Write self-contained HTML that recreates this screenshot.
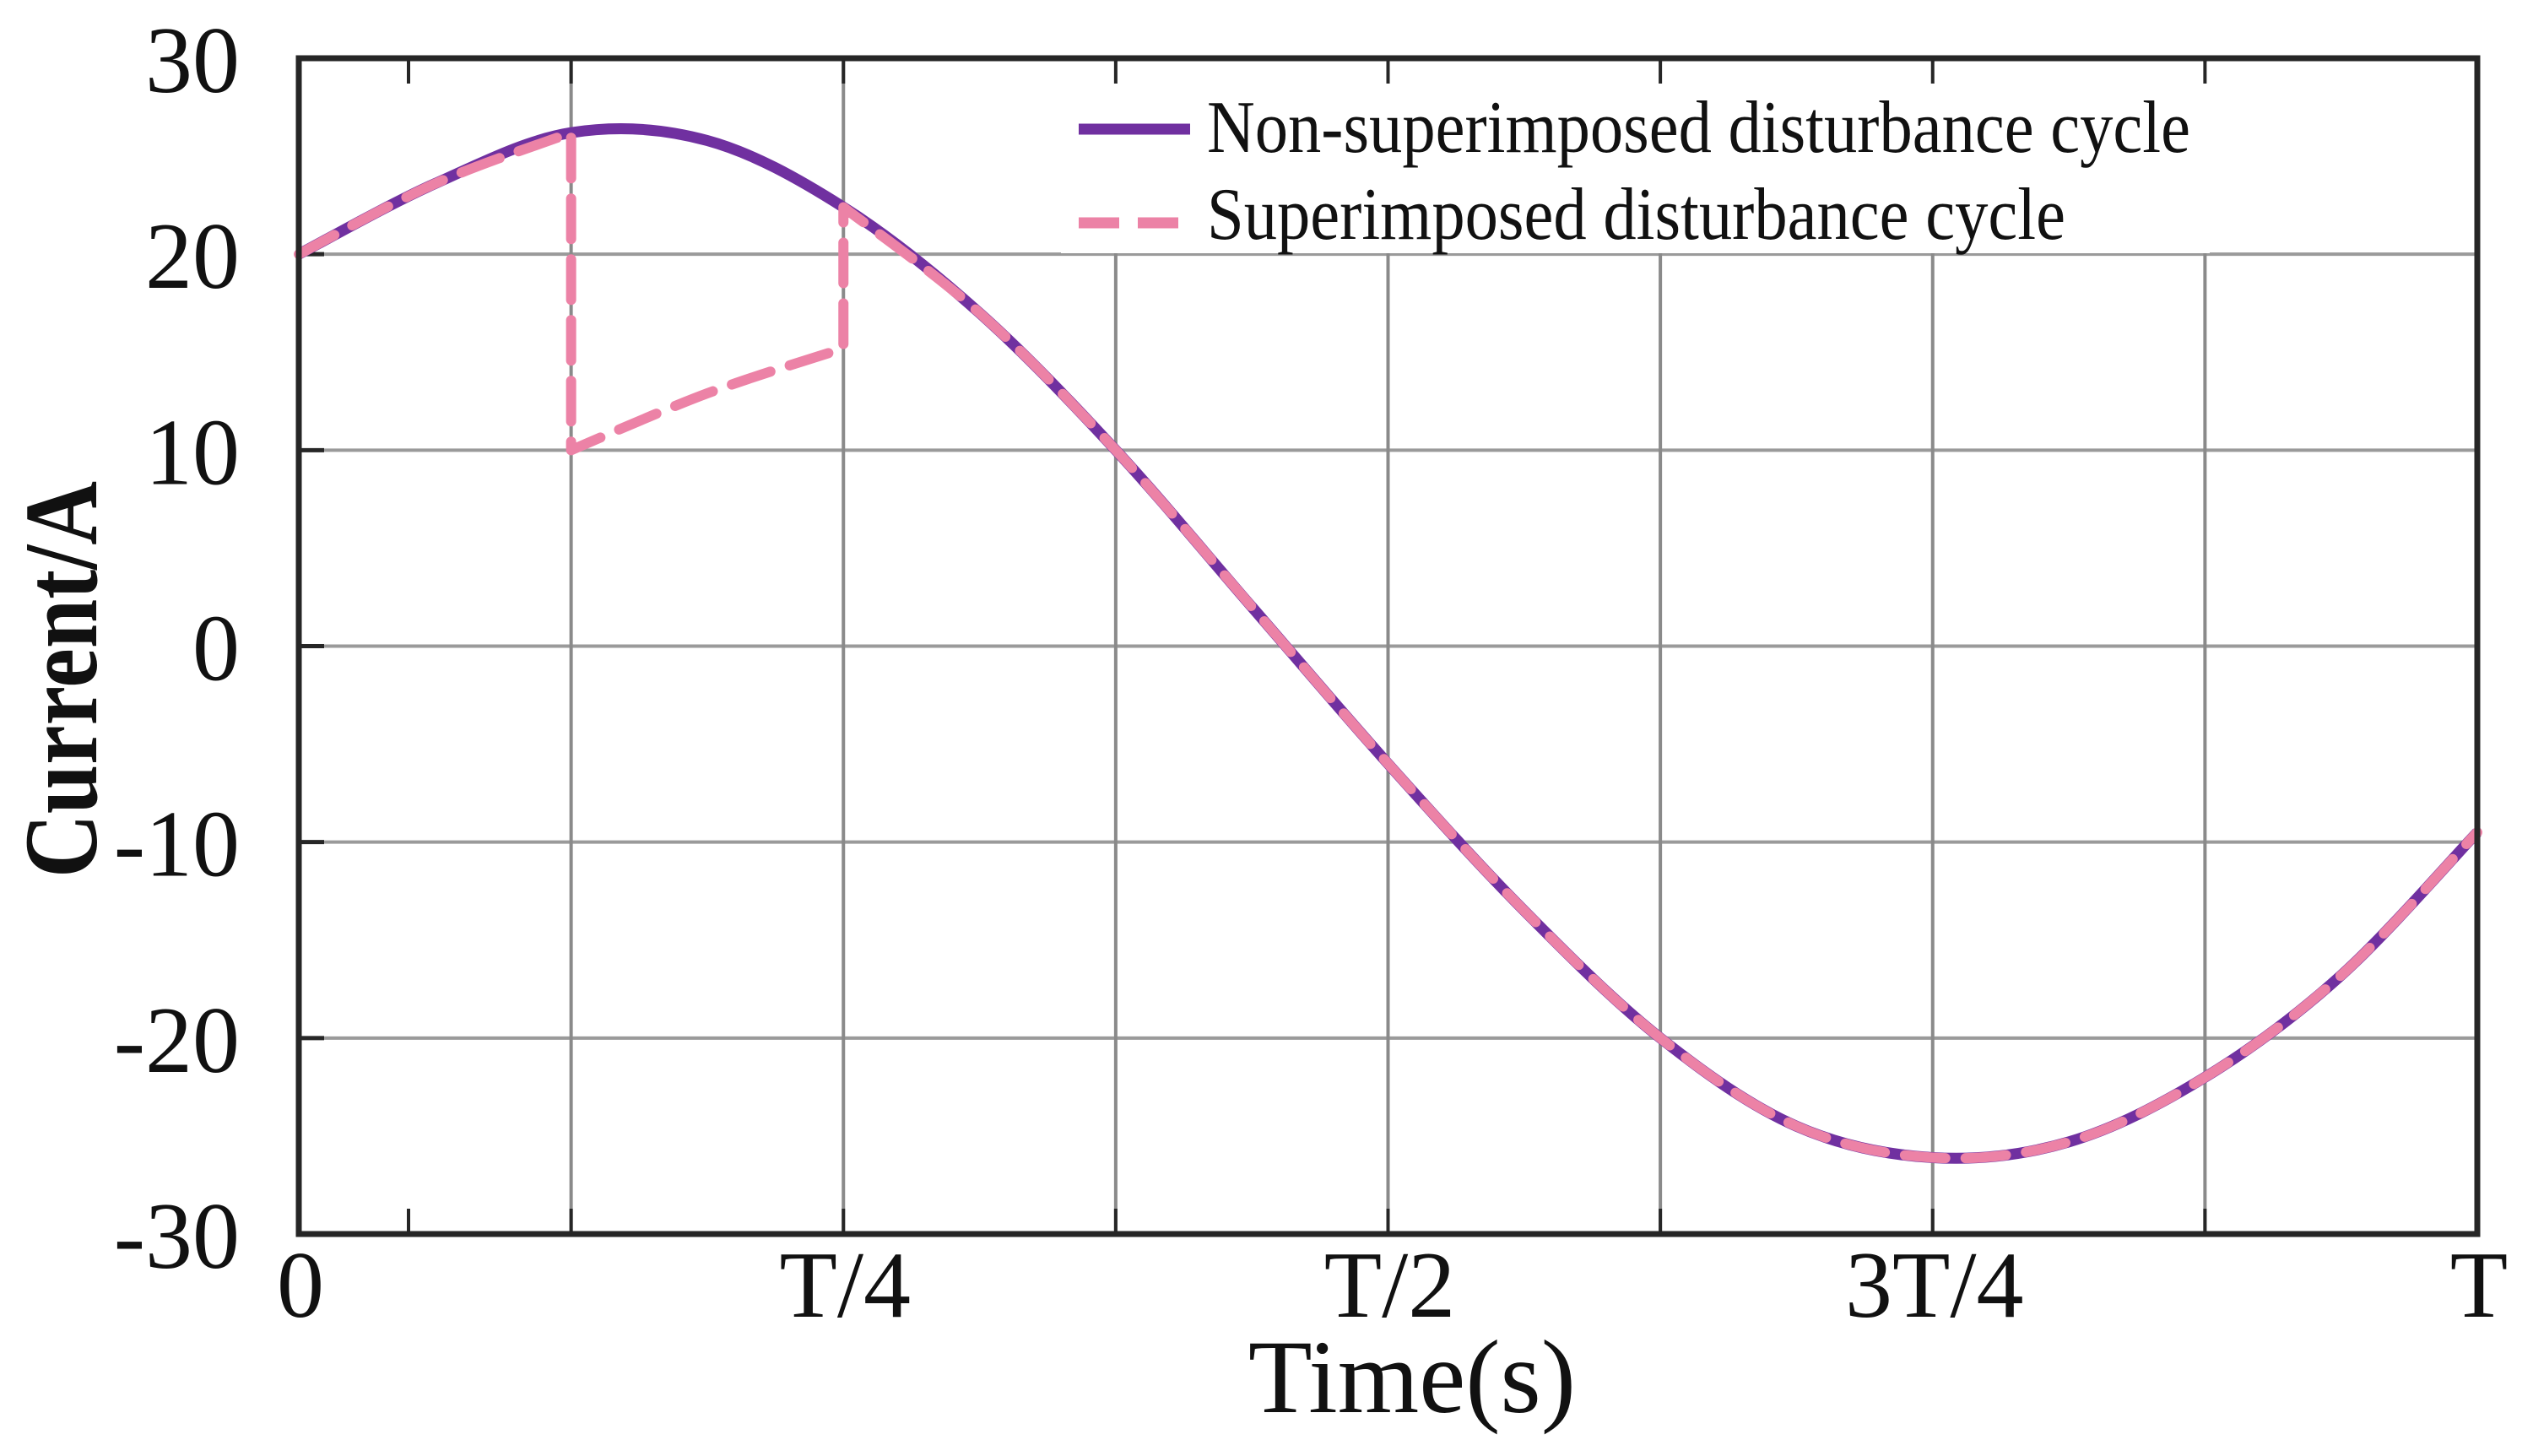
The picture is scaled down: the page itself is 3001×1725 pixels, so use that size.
<!DOCTYPE html>
<html><head><meta charset="utf-8"><style>
html,body{margin:0;padding:0;background:#fff;}
svg{display:block;font-family:"Liberation Serif","DejaVu Serif",serif;}
</style></head><body>
<svg id="chart" width="3001" height="1725" viewBox="0 0 3001 1725" xmlns="http://www.w3.org/2000/svg">
<rect x="0" y="0" width="3001" height="1725" fill="#fff"/>
<g id="grid"></g>
<rect x="1257" y="74" width="1361" height="226" fill="#fff"/>
<g id="ticks"></g>
<g id="series"></g>
<rect x="354" y="69" width="2581" height="1393" fill="none" stroke="#262626" stroke-width="7"/>
<g id="labels" font-size="112" fill="#111"></g>
<text x="1673" y="1673" font-size="124" text-anchor="middle" fill="#111">Time(s)</text>
<text transform="translate(114,805) rotate(-90)" font-size="124" text-anchor="middle" fill="#111" font-weight="bold" textLength="470" lengthAdjust="spacingAndGlyphs">Current/A</text>
<g>
  <line x1="1278" y1="153" x2="1410" y2="153" stroke="#7030a0" stroke-width="13"/>
  <text x="1430" y="180" font-size="88" textLength="1165" lengthAdjust="spacingAndGlyphs" fill="#111">Non-superimposed disturbance cycle</text>
  <line x1="1278" y1="264" x2="1410" y2="264" stroke="#ec82a6" stroke-width="13" stroke-dasharray="48,22"/>
  <text x="1430" y="283" font-size="88" textLength="1017" lengthAdjust="spacingAndGlyphs" fill="#111">Superimposed disturbance cycle</text>
</g>
</svg>
<script>
const tFrac = [0,1/16,2/16,3/16,4/16,5/16,6/16,7/16,8/16,9/16,10/16,11/16,12/16,13/16,14/16,15/16,1];
const baseCurrent = [20,23.6,26.2,25.8,22.4,17.0,10.0,2.0,-6.0,-13.5,-20.0,-24.5,-26.1,-25.3,-22.0,-16.8,-9.5];
const dropT = [2/16,3/16,4/16];
const dropCurrent = [10,12.9,15.2];
const xTickLabels = ["0","T/4","T/2","3T/4","T"];
const xTickVals = [0,0.25,0.5,0.75,1];
const yTickVals = [30,20,10,0,-10,-20,-30];
const xGridVals = [0.125,0.25,0.375,0.5,0.625,0.75,0.875];

const L=354,R=2935,Tp=69,B=1462;
const xs=t=>L+t*(R-L);
const ys=v=>Tp+(30-v)/60*(B-Tp);
const NS="http://www.w3.org/2000/svg";
function mk(tag,attrs,parent){const e=document.createElementNS(NS,tag);for(const k in attrs)e.setAttribute(k,attrs[k]);parent.appendChild(e);return e;}
const grid=document.getElementById('grid'),ticks=document.getElementById('ticks'),series=document.getElementById('series'),labels=document.getElementById('labels');

yTickVals.forEach(v=>{
  const g=mk('line',{x1:L,x2:R,y1:ys(v),y2:ys(v),stroke:'#9a9a9a','stroke-width':4},grid);
  
  
  const tk=mk('line',{x1:L,x2:L+30,y1:ys(v),y2:ys(v),stroke:'#262626','stroke-width':5},ticks);
  
  
  const t=mk('text',{x:284,y:ys(v)+40,'text-anchor':'end'},labels);
  t.textContent=String(v);
  
  
});
xGridVals.forEach(tv=>{
  const g=mk('line',{x1:xs(tv),x2:xs(tv),y1:Tp,y2:B,stroke:'#8a8a8a','stroke-width':4},grid);
  
  
  [[Tp,Tp+30],[B-30,B]].forEach(p=>{
    const tk=mk('line',{x1:xs(tv),x2:xs(tv),y1:p[0],y2:p[1],stroke:'#262626','stroke-width':4},ticks);
    
    
  });
});
[[Tp,Tp+30],[B-30,B]].forEach(p=>{
  const tk=mk('line',{x1:484,x2:484,y1:p[0],y2:p[1],stroke:'#262626','stroke-width':4},ticks);
  
  
});
xTickVals.forEach((tv,i)=>{
  const t=mk('text',{x:xs(tv)+2,y:1560,'text-anchor':'middle'},labels);
  t.textContent=xTickLabels[i];
  
  
});

function smooth(pts){
  let d='M'+pts[0][0]+','+pts[0][1];
  for(let i=0;i<pts.length-1;i++){
    const p0=pts[i-1]||pts[i],p1=pts[i],p2=pts[i+1],p3=pts[i+2]||p2;
    const c1=[p1[0]+(p2[0]-p0[0])/6,p1[1]+(p2[1]-p0[1])/6];
    const c2=[p2[0]-(p3[0]-p1[0])/6,p2[1]-(p3[1]-p1[1])/6];
    d+=' C'+c1[0]+','+c1[1]+' '+c2[0]+','+c2[1]+' '+p2[0]+','+p2[1];
  }
  return d;
}
const basePts=tFrac.map((t,i)=>[xs(t),ys(baseCurrent[i])]);
const solid=mk('path',{d:smooth(basePts),fill:'none',stroke:'#7030a0','stroke-width':13,'stroke-linejoin':'round'},series);



const i0=tFrac.indexOf(dropT[0]), i1=tFrac.indexOf(dropT[dropT.length-1]);
const seg1=basePts.slice(0,i0+1);
const seg2=dropT.map((t,i)=>[xs(t),ys(dropCurrent[i])]);
const seg3=basePts.slice(i1);
let d=smooth(seg1);
d+=' L'+seg2[0][0]+','+seg2[0][1];
d+=smooth(seg2).replace(/^M[^ ]+/,'');
d+=' L'+seg3[0][0]+','+seg3[0][1];
d+=smooth(seg3).replace(/^M[^ ]+/,'');
const dash=mk('path',{d:d,fill:'none',stroke:'#ec82a6','stroke-width':12,'stroke-dasharray':'48,24','stroke-linecap':'round','stroke-linejoin':'round'},series);


</script>
</body></html>
